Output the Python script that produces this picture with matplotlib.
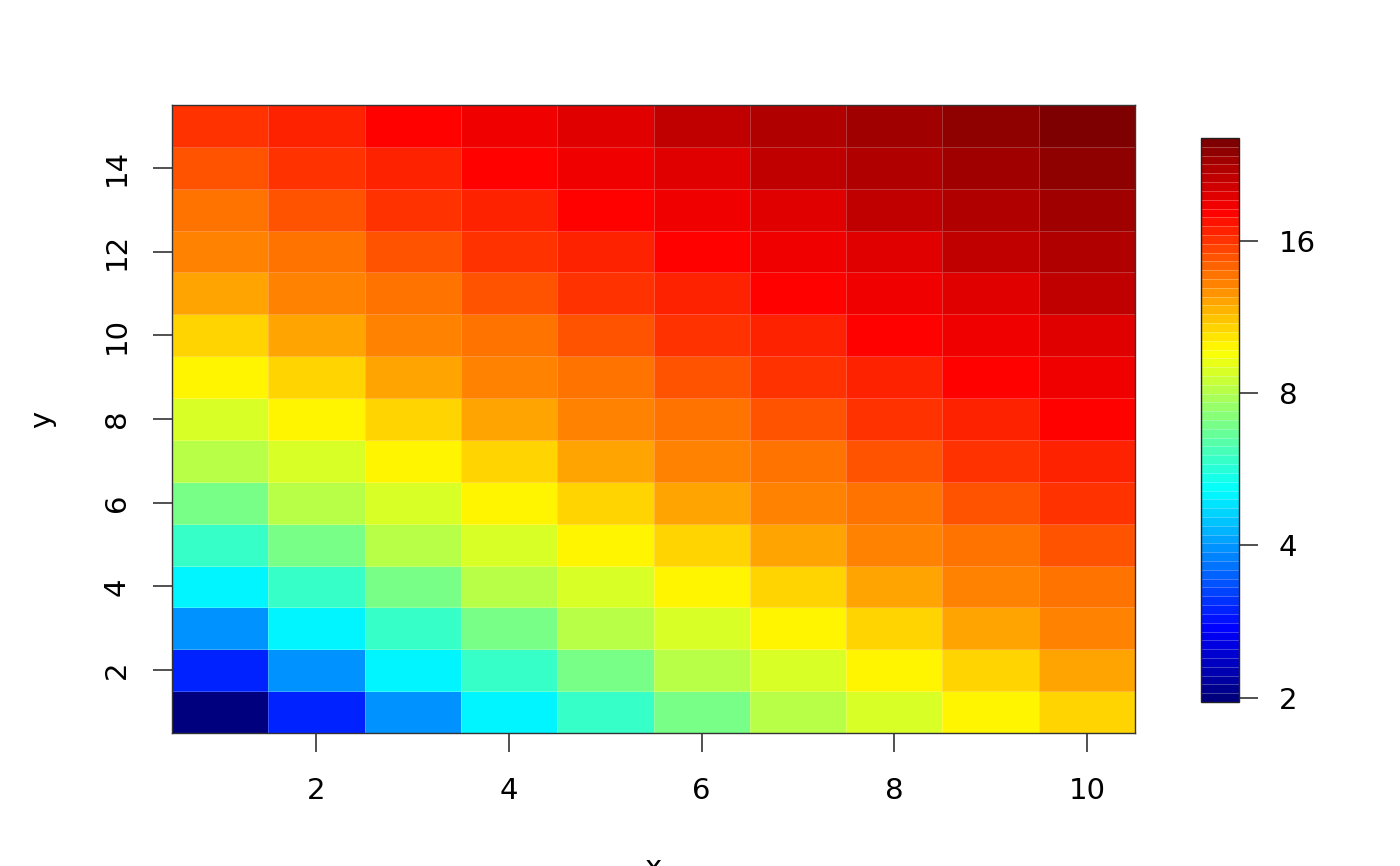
import numpy as np
import matplotlib
matplotlib.use("Agg")
import matplotlib.pyplot as plt
from matplotlib.colors import LinearSegmentedColormap, LogNorm

# grid coordinates (cell centres)
x_vals = [1, 2, 3, 4, 5, 6, 7, 8, 9, 10]
y_vals = [1, 2, 3, 4, 5, 6, 7, 8, 9, 10, 11, 12, 13, 14, 15]

# z values, one row per y (bottom row first)
z_rows = [
    [2, 3, 4, 5, 6, 7, 8, 9, 10, 11],
    [3, 4, 5, 6, 7, 8, 9, 10, 11, 12],
    [4, 5, 6, 7, 8, 9, 10, 11, 12, 13],
    [5, 6, 7, 8, 9, 10, 11, 12, 13, 14],
    [6, 7, 8, 9, 10, 11, 12, 13, 14, 15],
    [7, 8, 9, 10, 11, 12, 13, 14, 15, 16],
    [8, 9, 10, 11, 12, 13, 14, 15, 16, 17],
    [9, 10, 11, 12, 13, 14, 15, 16, 17, 18],
    [10, 11, 12, 13, 14, 15, 16, 17, 18, 19],
    [11, 12, 13, 14, 15, 16, 17, 18, 19, 20],
    [12, 13, 14, 15, 16, 17, 18, 19, 20, 21],
    [13, 14, 15, 16, 17, 18, 19, 20, 21, 22],
    [14, 15, 16, 17, 18, 19, 20, 21, 22, 23],
    [15, 16, 17, 18, 19, 20, 21, 22, 23, 24],
    [16, 17, 18, 19, 20, 21, 22, 23, 24, 25],
]

x_ticks = [2, 4, 6, 8, 10]
y_ticks = [2, 4, 6, 8, 10, 12, 14]
cbar_ticks = [2, 4, 8, 16]
zlim = [1.96, 25.6]   # colour key range (slightly wider than data)

# R-style "jet" ramp, 64 colours
jet_cols = ["#00007F", "#0000FF", "#007FFF", "#00FFFF", "#7FFF7F",
            "#FFFF00", "#FF7F00", "#FF0000", "#7F0000"]
n_cols = 64
cmap = LinearSegmentedColormap.from_list("rjet", jet_cols, N=n_cols)

z = np.array(z_rows, dtype=float)
norm = LogNorm(vmin=zlim[0], vmax=zlim[1])

plt.rcParams["font.family"] = ["DejaVu Sans"]
FS = 21

fig = plt.figure(figsize=(14, 8.66), dpi=100)
ax = fig.add_axes([172 / 1400, 1 - 733 / 866, (1135 - 172) / 1400, (733 - 105) / 866])
cax = fig.add_axes([1201 / 1400, 1 - 702 / 866, (1239 - 1201) / 1400, (702 - 138) / 866])

mesh = ax.pcolormesh(x_vals, y_vals, z, cmap=cmap, norm=norm, shading="nearest",
                     edgecolors=(1, 1, 1, 0.22), linewidth=0.6)
ax.set_xlim(0.5, 10.5)
ax.set_ylim(0.5, 15.5)

ax.set_xticks(x_ticks)
ax.set_xticklabels([str(t) for t in x_ticks], fontsize=FS)
ax.set_yticks(y_ticks)
ax.set_yticklabels([str(t) for t in y_ticks], fontsize=FS, rotation=90, va="center")
ax.tick_params(axis="x", length=13.7, width=1.1, pad=18, color="#222222")
ax.tick_params(axis="y", length=13.7, width=1.1, pad=16, color="#222222")
for sp in ax.spines.values():
    sp.set_linewidth(1.0)
    sp.set_color("#333333")

# axis titles (x title sits at the very bottom edge, as in the original)
fig.text(653 / 1400, 1 - 876 / 866, "x", fontsize=FS, ha="center", va="baseline")
fig.text(42 / 1400, 1 - 419 / 866, "y", fontsize=FS, ha="center", va="center", rotation=90)

# colour key
bounds = np.geomspace(zlim[0], zlim[1], n_cols + 1)
cb = fig.colorbar(mesh, cax=cax, boundaries=bounds, drawedges=True)
cb.dividers.set_color((1, 1, 1, 0.3))
cb.dividers.set_linewidth(0.6)
cb.outline.set_linewidth(1.0)
cb.outline.set_edgecolor("#222222")
cb.set_ticks(cbar_ticks)
cb.set_ticklabels([str(t) for t in cbar_ticks])
cb.minorticks_off()
cax.tick_params(length=13.7, width=1.1, pad=15, labelsize=FS, color="#222222")

fig.savefig("out.png", dpi=100)
